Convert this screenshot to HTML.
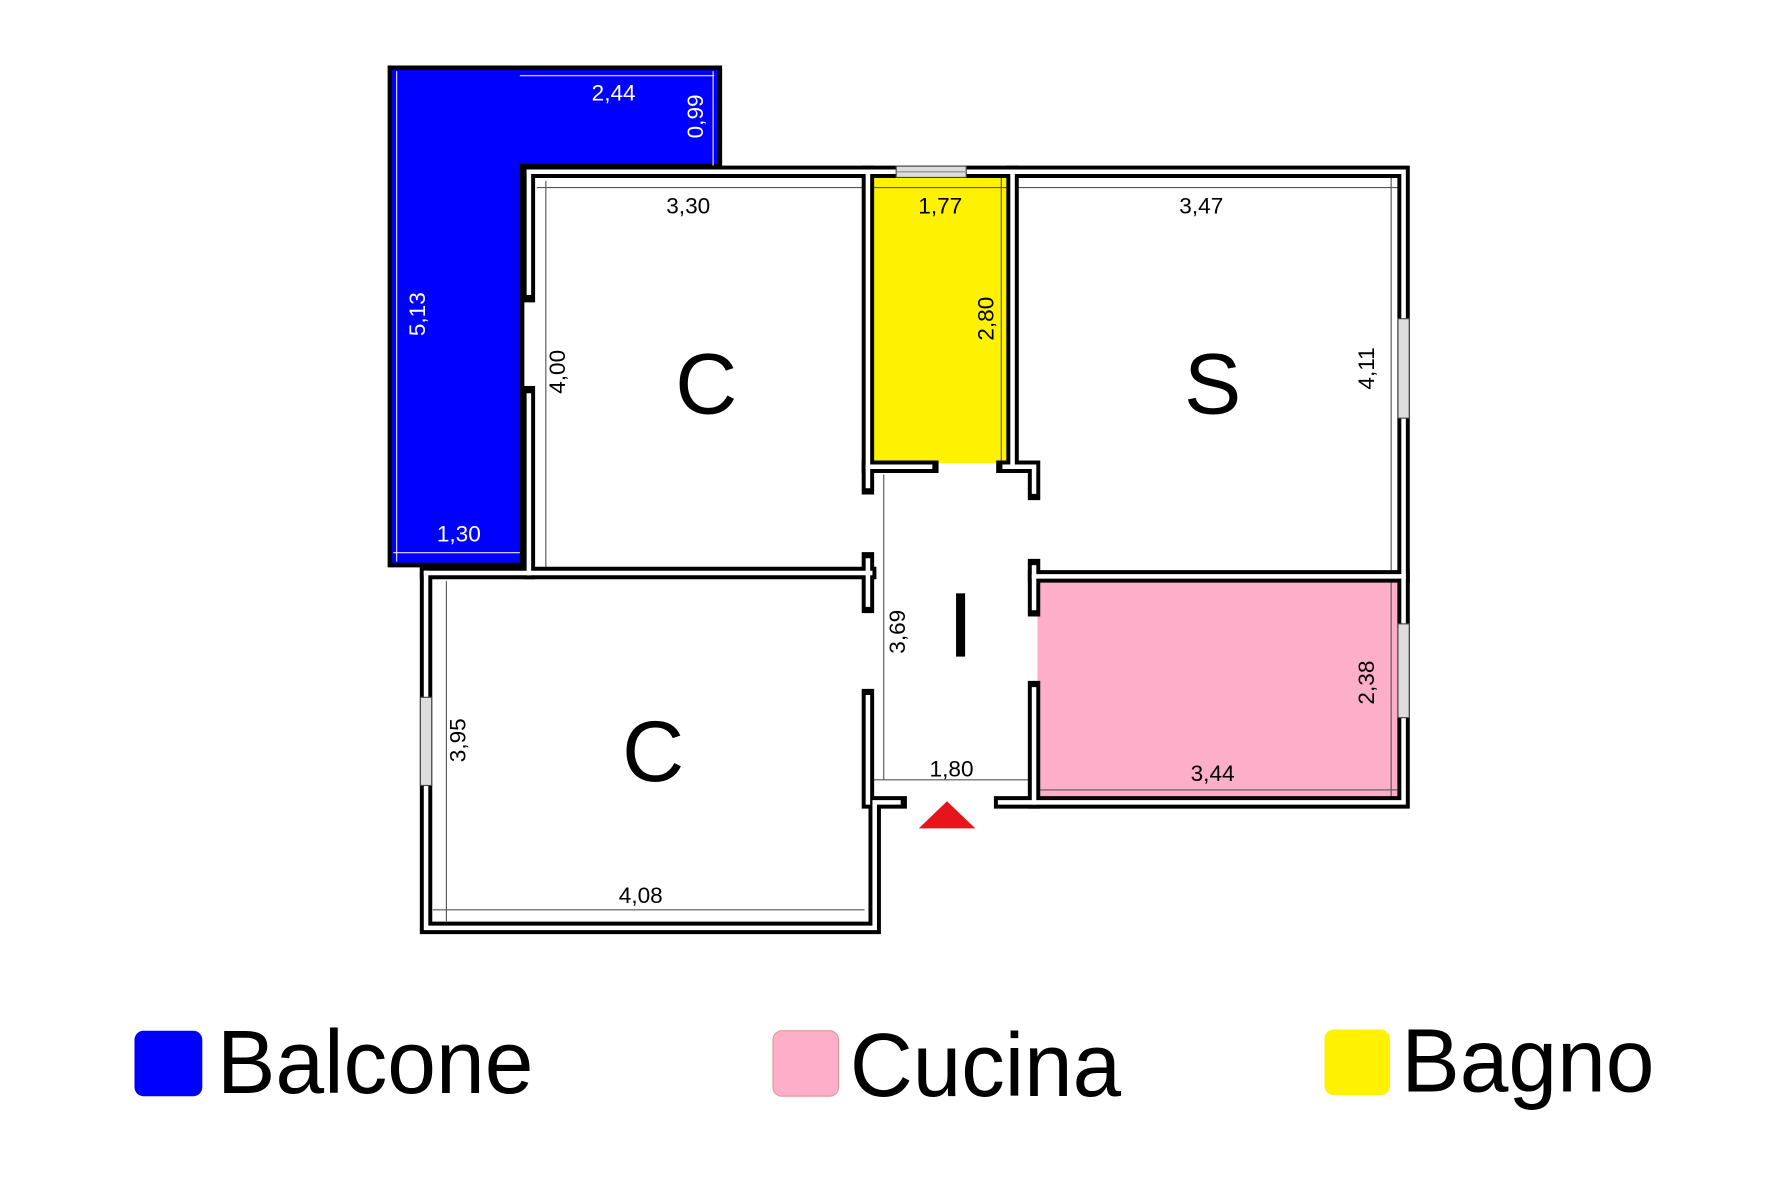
<!DOCTYPE html>
<html><head><meta charset="utf-8"><style>html,body{margin:0;padding:0;background:#fff}svg{display:block}</style></head>
<body>
<svg width="1772" height="1181" viewBox="0 0 1568 1045" preserveAspectRatio="none" xmlns="http://www.w3.org/2000/svg" font-family="Liberation Sans, Arial, sans-serif">
<rect width="1568" height="1045" fill="#fff"/>
<polygon points="345,60 637,60 637,147 462,147 462,500 345,500" fill="#0000ff" stroke="#000" stroke-width="4"/>
<rect x="772" y="157" width="121" height="253" fill="#fff200"/>
<rect x="918" y="514" width="319" height="191" fill="#fdaec9"/>
<g stroke="#fff" stroke-width="1" fill="none" opacity="0.9">
<line x1="351" y1="63" x2="351" y2="497"/>
<line x1="460" y1="67" x2="632" y2="67"/>
<line x1="631" y1="63" x2="631" y2="147"/>
<line x1="348" y1="489" x2="460" y2="489"/>
</g>
<g stroke="#555" stroke-width="1" fill="none">
<line x1="475" y1="166" x2="765" y2="166"/>
<line x1="483" y1="160" x2="483" y2="503"/>
<line x1="772" y1="166" x2="893" y2="166"/>
<line x1="886" y1="157" x2="886" y2="410"/>
<line x1="900" y1="166" x2="1237" y2="166"/>
<line x1="1231" y1="157" x2="1231" y2="505"/>
<line x1="782" y1="420" x2="782" y2="690"/>
<line x1="770" y1="690" x2="912" y2="690"/>
<line x1="1231" y1="514" x2="1231" y2="705"/>
<line x1="918" y1="699" x2="1237" y2="699"/>
<line x1="395" y1="514" x2="395" y2="815"/>
<line x1="383" y1="805" x2="765" y2="805"/>
</g>
<g fill="none" stroke-linejoin="miter" stroke-linecap="square">
<g stroke="#000" stroke-width="11">
<polyline points="468,152 1242,152 1242,710 885,710"/>
<polyline points="468,152 468,262"/>
<polyline points="468,347 468,507"/>
<polyline points="377,507 770,507"/>
<polyline points="377,507 377,821 774,821 774,710 797,710"/>
<polyline points="768,494 768,537"/>
<polyline points="768,152 768,432"/>
<polyline points="768,413 825,413"/>
<polyline points="887,413 915,413 915,437"/>
<polyline points="896,152 896,413"/>
<polyline points="915,500 915,540"/>
<polyline points="915,510 1242,510"/>
<polyline points="915,608 915,710"/>
<polyline points="768,615 768,710"/>
</g>
<g stroke="#fff" stroke-width="4">
<polyline points="468,152 1242,152 1242,710 885,710"/>
<polyline points="468,152 468,259"/>
<polyline points="468,350 468,507"/>
<polyline points="377,507 770,507"/>
<polyline points="377,507 377,821 774,821 774,710 795,710"/>
<polyline points="768,496 768,535"/>
<polyline points="768,152 768,430"/>
<polyline points="768,413 823,413"/>
<polyline points="889,413 915,413 915,435"/>
<polyline points="896,152 896,413"/>
<polyline points="915,502 915,538"/>
<polyline points="915,510 1242,510"/>
<polyline points="915,610 915,710"/>
<polyline points="768,617 768,710"/>
</g>
</g>
<rect x="793" y="147" width="62" height="10" fill="#ddd" stroke="#444" stroke-width="1"/>
<line x1="793" y1="152" x2="855" y2="152" stroke="#888"/>
<rect x="1237" y="282" width="10" height="88" fill="#ddd" stroke="#444" stroke-width="1"/>
<rect x="1237" y="552" width="10" height="83" fill="#ddd" stroke="#444" stroke-width="1"/>
<rect x="372" y="617" width="10" height="78" fill="#ddd" stroke="#444" stroke-width="1"/>
<polygon points="813,733 863,733 838,709" fill="#e8141c"/>
<g fill="#000" text-anchor="middle">
<text x="625" y="366" font-size="76">C</text>
<text x="1073" y="366" font-size="76">S</text>
<text x="578" y="691" font-size="76">C</text>
<rect x="846" y="525" width="8" height="56"/>
</g>
<g font-size="20" fill="#000" text-anchor="middle">
<text x="609" y="189">3,30</text>
<text x="832" y="189">1,77</text>
<text x="1063" y="189">3,47</text>
<text x="842" y="687">1,80</text>
<text x="1073" y="691">3,44</text>
<text x="567" y="799">4,08</text>
<text transform="translate(500,329) rotate(-90)">4,00</text>
<text transform="translate(879,282) rotate(-90)">2,80</text>
<text transform="translate(1216,326) rotate(-90)">4,11</text>
<text transform="translate(1216,604) rotate(-90)">2,38</text>
<text transform="translate(801,559) rotate(-90)">3,69</text>
<text transform="translate(412,655) rotate(-90)">3,95</text>
</g>
<g font-size="20" fill="#fff" text-anchor="middle">
<text x="543" y="89">2,44</text>
<text x="406" y="479">1,30</text>
<text transform="translate(376,278) rotate(-90)">5,13</text>
<text transform="translate(622,103) rotate(-90)">0,99</text>
</g>
<rect x="119" y="912" width="60" height="58" rx="8" fill="#0000ff"/>
<rect x="684" y="912" width="58" height="58" rx="8" fill="#fdaec9" stroke="#d99" stroke-width="1"/>
<rect x="1172" y="911" width="58" height="58" rx="8" fill="#fff200"/>
<g font-size="80" fill="#000">
<text x="192" y="967" textLength="280" lengthAdjust="spacingAndGlyphs">Balcone</text>
<text x="752" y="970" textLength="240" lengthAdjust="spacingAndGlyphs">Cucina</text>
<text x="1240" y="966" textLength="224" lengthAdjust="spacingAndGlyphs">Bagno</text>
</g>
</svg>
</body></html>
